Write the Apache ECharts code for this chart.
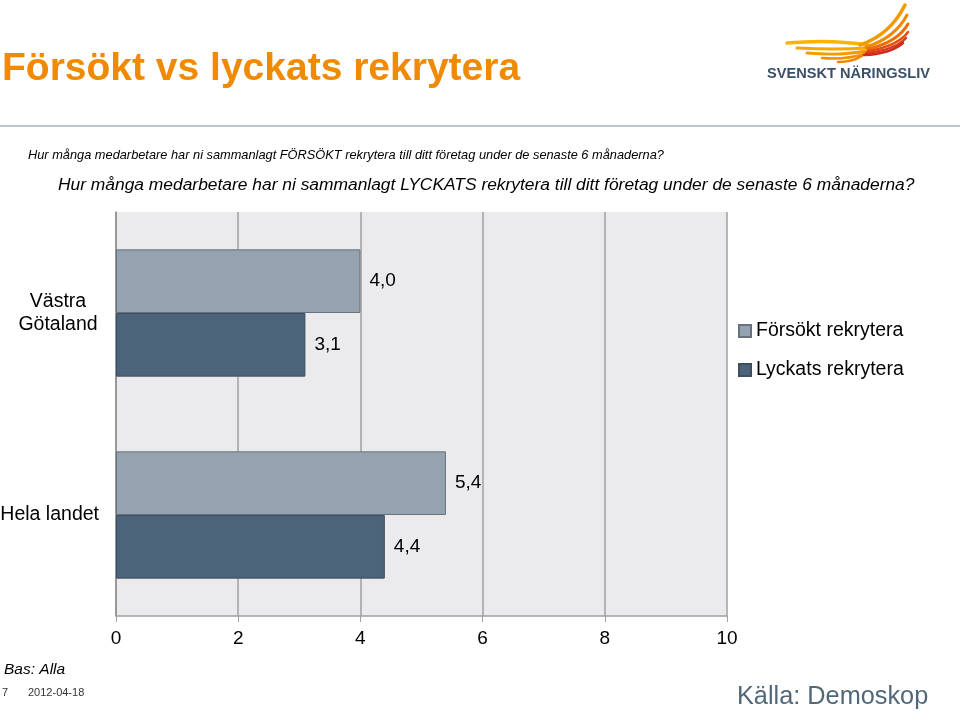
<!DOCTYPE html>
<html>
<head>
<meta charset="utf-8">
<script src="https://cdn.jsdelivr.net/npm/echarts@6/dist/echarts.min.js"></script>
<style>
html, body { margin: 0; background: #fff; }
#chart { width: 960px; height: 714px; }
</style>
</head>
<body>
<div id="chart"></div>
<script>
// --- data ---
const categories  = ['Västra\nGötaland', 'Hela landet']
const seriesNames = ['Försökt rekrytera', 'Lyckats rekrytera']
const forsokt     = [4.0, 5.4]
const lyckats     = [3.1, 4.4]

const FONT = 'Liberation Sans, Arial, sans-serif'
const fmt = v => v.toFixed(1).replace('.', ',')

// --- logo feathers (decoration only) ---
const feathers = [
  [[787,43],[830,39],[868,45],'#f7b500',3.5],
  [[797,48],[835,50],[868,48],'#f5a800',3],
  [[807,53],[840,56],[866,51],'#f39c00',3],
  [[822,58],[845,60],[864,54],'#f29000',2.5],
  [[838,62],[852,62],[862,56],'#ef8400',2.5],
  [[860,45],[890,35],[905,5],'#f29a00',3.5],
  [[866,47],[895,38],[907,15],'#f08800',3],
  [[868,49],[898,42],[908,24],'#ec7000',3],
  [[868,51],[898,46],[908,32],'#e24e12',2.5],
  [[866,53],[895,50],[906,38],'#d93a18',2.5],
  [[864,55],[890,54],[903,43],'#cf2a1c',2.5]
].map(([a, c, b, col, w]) => ({
  type: 'bezierCurve',
  shape: { x1: a[0], y1: a[1], cpx1: c[0], cpy1: c[1], x2: b[0], y2: b[1] },
  style: { stroke: col, lineWidth: w, lineCap: 'round', fill: null }
}))

const txt = (x, y, text, size, extra) => ({
  type: 'text', x, y,
  style: Object.assign({ text, fontSize: size, fontFamily: FONT, fill: '#000',
    verticalAlign: 'middle', align: 'left' }, extra || {})
})

const chart = echarts.init(document.getElementById('chart'))
chart.setOption({
  backgroundColor: '#fff',
  textStyle: { fontFamily: FONT },
  grid: { left: 116, right: 233, top: 212, bottom: 98, show: true,
          containLabel: false, outerBoundsMode: 'none',
          backgroundColor: '#ebebed', borderWidth: 0 },
  legend: {
    orient: 'vertical', left: 733, top: 316, itemWidth: 12, itemHeight: 12,
    itemGap: 19, icon: 'rect',
    textStyle: { fontSize: 19.5, color: '#000', fontFamily: FONT },
    data: seriesNames
  },
  xAxis: {
    type: 'value', min: 0, max: 10, interval: 2,
    axisLine: { show: true, lineStyle: { color: '#a0a0a0', width: 1.5 } },
    axisTick: { show: true, length: 6, lineStyle: { color: '#a0a0a0' } },
    axisLabel: { fontSize: 19, color: '#000', margin: 13 },
    splitLine: { lineStyle: { color: '#a0a0a0', width: 1.5 } }
  },
  yAxis: {
    type: 'category', inverse: true,
    data: [
      { value: categories[0], textStyle: { align: 'center', padding: [0, 82, 0, 0] } },
      { value: categories[1], textStyle: { align: 'right' } }
    ],
    axisLine: { show: true, lineStyle: { color: '#8f8f8f', width: 1.5 } },
    axisTick: { show: false },
    axisLabel: { fontSize: 19.5, color: '#000', margin: 17, lineHeight: 23 }
  },
  series: [
    {
      name: seriesNames[0], type: 'bar', data: forsokt,
      barGap: '0%', barCategoryGap: '37%',
      itemStyle: { color: '#95a3b0', borderColor: '#66727d', borderWidth: 1 },
      label: { show: true, position: 'right', distance: 9, fontSize: 19,
               color: '#000', formatter: p => fmt(p.value) }
    },
    {
      name: seriesNames[1], type: 'bar', data: lyckats,
      barGap: '0%', barCategoryGap: '37%',
      itemStyle: { color: '#4b6479', borderColor: '#3d4f5f', borderWidth: 1 },
      label: { show: true, position: 'right', distance: 9, fontSize: 19,
               color: '#000', formatter: p => fmt(p.value) }
    }
  ],
  graphic: [
    txt(2, 69, 'Försökt vs lyckats rekrytera', 39, { fill: '#f08a00', fontWeight: 'bold' }),
    { type: 'line', shape: { x1: 0, y1: 126, x2: 960, y2: 126 },
      style: { stroke: '#b9c5d1', lineWidth: 2 } },
    txt(28, 155, 'Hur många medarbetare har ni sammanlagt FÖRSÖKT rekrytera till ditt företag under de senaste 6 månaderna?', 12.8, { fontStyle: 'italic' }),
    txt(58, 185, 'Hur många medarbetare har ni sammanlagt LYCKATS rekrytera till ditt företag under de senaste 6 månaderna?', 17.4, { fontStyle: 'italic' }),
    txt(4, 670, 'Bas: Alla', 15.5, { fontStyle: 'italic' }),
    txt(2, 693, '7', 11, { fill: '#333' }),
    txt(28, 693, '2012-04-18', 11, { fill: '#333' }),
    txt(737, 697, 'Källa: Demoskop', 25.3, { fill: '#516878' }),
    txt(767, 74, 'SVENSKT NÄRINGSLIV', 14.6, { fill: '#3b5068', fontWeight: 'bold' })
  ].concat(feathers)
})
</script>
</body>
</html>
